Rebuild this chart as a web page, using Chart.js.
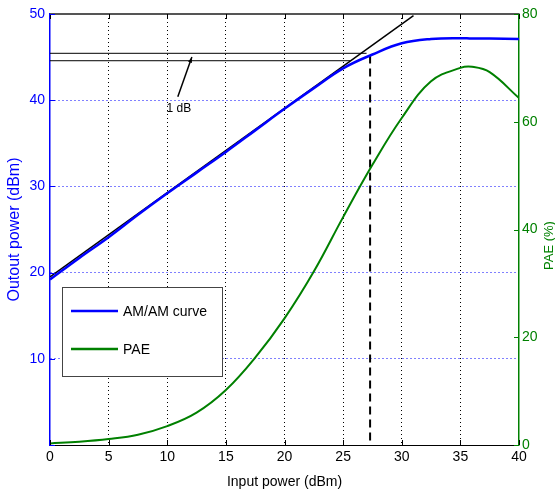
<!DOCTYPE html>
<html><head><meta charset="utf-8">
<script src="https://cdn.jsdelivr.net/npm/chart.js@4"></script>
<style>html,body{margin:0;padding:0;background:#fff}#wrap{width:555px;height:492px}</style>
</head><body><div id="wrap"><canvas id="c" width="555" height="492"></canvas></div>
<script>
const inputPower = [0,2.5,5,7.5,10,12.5,15,17.5,20,22.5,25,27.5,30,32.5,35,36,37.5,40];
const amam       = [19.2,21.7,24.1,26.7,29.2,31.6,34.0,36.5,39.0,41.4,43.7,45.3,46.6,47.1,47.2,47.15,47.15,47.1];
const pae        = [0.3,0.6,1.1,1.9,3.5,6.0,10.2,16.2,23.5,32.2,42.3,52.0,60.7,67.5,70.0,70.2,69.2,64.4];
const linearX    = [0,31];
const linearY    = [19.5,49.8];
const upperLineX = [0,27.0], upperLineY = 45.44;
const lowerLineX = [0,25.6], lowerLineY = 44.58;
const p1dbX = 27.3, p1dbY = 45.2;
const arrowFrom = [10.9,40.4], arrowTo = [12.1,45.0];
const annotText = "1 dB";
const xTicks = [0,5,10,15,20,25,30,35,40];
const leftTicks = [0,10,20,30,40,50];
const rightTicks = [0,20,40,60,80];
const seriesNames = ["AM/AM curve","PAE"];
const rightTitle = "PAE (%)";
const FONT = "'Liberation Sans', Arial, sans-serif";

const zip = (xs, ys) => xs.map((x,i)=>({x, y: ys[i]}));

const framePlugin = {
  id:'frame',
  afterDatasetsDraw(chart){
    const {ctx, chartArea:a, scales} = chart;
    const xs = scales.x, yl = scales.y;
    ctx.save();
    // top border
    ctx.strokeStyle = '#555'; ctx.lineWidth = 2;
    ctx.beginPath(); ctx.moveTo(a.left, a.top); ctx.lineTo(a.right, a.top); ctx.stroke();
    // bottom axis
    ctx.strokeStyle = '#000'; ctx.lineWidth = 1;
    ctx.beginPath(); ctx.moveTo(a.left, a.bottom+0.5); ctx.lineTo(a.right, a.bottom+0.5); ctx.stroke();
    // x ticks inward
    xTicks.forEach(t=>{ const px=Math.round(xs.getPixelForValue(t))+0.5;
      ctx.beginPath(); ctx.moveTo(px,a.bottom); ctx.lineTo(px,a.bottom-5); ctx.stroke();
      ctx.beginPath(); ctx.moveTo(px,a.top); ctx.lineTo(px,a.top+5); ctx.stroke(); });
    // left ticks
    ctx.strokeStyle = '#0000ff';
    leftTicks.forEach(t=>{ const py=Math.round(yl.getPixelForValue(t))+0.5;
      ctx.beginPath(); ctx.moveTo(a.left,py); ctx.lineTo(a.left+5,py); ctx.stroke(); });
    ctx.strokeStyle = '#008000';
    rightTicks.forEach(t=>{ const py=Math.round(scales.y1.getPixelForValue(t))+0.5;
      ctx.beginPath(); ctx.moveTo(a.right,py); ctx.lineTo(a.right-5,py); ctx.stroke(); });
    // right axis title (reads bottom-to-top)
    ctx.save();
    ctx.translate(chart.width-6, (a.top+a.bottom)/2+16);
    ctx.rotate(-Math.PI/2);
    ctx.fillStyle='#008000'; ctx.font='13px '+FONT; ctx.textAlign='center'; ctx.textBaseline='middle';
    ctx.fillText(rightTitle,0,0);
    ctx.restore();
    // arrow
    const x0=xs.getPixelForValue(arrowFrom[0]), y0=yl.getPixelForValue(arrowFrom[1]);
    const x1=xs.getPixelForValue(arrowTo[0]), y1=yl.getPixelForValue(arrowTo[1]);
    ctx.strokeStyle='#000'; ctx.fillStyle='#000'; ctx.lineWidth=1.5;
    ctx.beginPath(); ctx.moveTo(x0,y0); ctx.lineTo(x1,y1); ctx.stroke();
    const ang=Math.atan2(y1-y0,x1-x0), L=6;
    ctx.beginPath(); ctx.moveTo(x1,y1);
    ctx.lineTo(x1-L*Math.cos(ang-0.35), y1-L*Math.sin(ang-0.35));
    ctx.lineTo(x1-L*Math.cos(ang+0.35), y1-L*Math.sin(ang+0.35));
    ctx.closePath(); ctx.fill();
    ctx.font = '12px '+FONT; ctx.textAlign='center'; ctx.textBaseline='top';
    ctx.fillText(annotText, x0+1, y0+6);
    // legend box
    const lx=a.left+12, ly=a.top+273, lw=160, lh=89;
    ctx.fillStyle='#fff'; ctx.fillRect(lx,ly,lw,lh);
    ctx.strokeStyle='#444'; ctx.lineWidth=1; ctx.strokeRect(lx+0.5,ly+0.5,lw,lh);
    const cols=['#0000ff','#008000'];
    seriesNames.forEach((n,i)=>{
      const yy=ly+24+i*38;
      ctx.strokeStyle=cols[i]; ctx.lineWidth=2.5;
      ctx.beginPath(); ctx.moveTo(lx+9,yy); ctx.lineTo(lx+56,yy); ctx.stroke();
      ctx.fillStyle='#000'; ctx.textAlign='left'; ctx.textBaseline='middle';
      ctx.font='14px '+FONT;
      ctx.fillText(n, lx+61, yy+1);
    });
    ctx.restore();
  }
};

new Chart(document.getElementById('c'), {
  type:'line',
  data:{datasets:[
    {label:seriesNames[0], data:zip(inputPower,amam), borderColor:'#0000ff', borderWidth:2.5, pointRadius:0, tension:0.4, yAxisID:'y'},
    {label:seriesNames[1], data:zip(inputPower,pae), borderColor:'#008000', borderWidth:2, pointRadius:0, tension:0.4, yAxisID:'y1'},
    {label:'linear', data:zip(linearX,linearY), borderColor:'#000', borderWidth:1.5, pointRadius:0, yAxisID:'y'},
    {label:'upper', data:zip(upperLineX,[upperLineY,upperLineY]), borderColor:'#000', borderWidth:1, pointRadius:0, yAxisID:'y'},
    {label:'lower', data:zip(lowerLineX,[lowerLineY,lowerLineY]), borderColor:'#000', borderWidth:1, pointRadius:0, yAxisID:'y'},
    {label:'p1dB', data:zip([p1dbX,p1dbX],[p1dbY,0]), borderColor:'#000', borderWidth:2, borderDash:[8,5], pointRadius:0, yAxisID:'y'}
  ]},
  options:{
    responsive:false, animation:false, devicePixelRatio:1,
    layout:{padding:{top:14,right:0,left:0,bottom:0}},
    plugins:{legend:{display:false}, tooltip:{enabled:false}},
    scales:{
      x:{type:'linear', min:0, max:40, afterBuildTicks(s){s.ticks=xTicks.map(v=>({value:v}));},
        afterFit(s){s.height=47;},
        grid:{color:(c)=>(c.tick && (c.tick.value===0||c.tick.value===40))?'rgba(0,0,0,0)':'#000', lineWidth:1, drawTicks:false},
        border:{display:false, dash:[1,3]},
        ticks:{color:'#000', font:{family:FONT,size:14}, padding:4, maxRotation:0},
        title:{display:true, text:'Input power (dBm)', color:'#000', font:{family:FONT,size:14}, padding:{top:0,bottom:1}}},
      y:{type:'linear', position:'left', min:0, max:50, afterBuildTicks(s){s.ticks=leftTicks.map(v=>({value:v}));},
        afterFit(s){s.width=50;},
        grid:{color:(c)=>(c.tick && (c.tick.value===0||c.tick.value===50))?'rgba(0,0,0,0)':'#0000ff', lineWidth:1, drawTicks:false},
        border:{display:true, color:'#0000ff', width:1.5, dash:[1,3]},
        ticks:{color:'#0000ff', font:{family:FONT,size:14}, padding:5, callback:(v)=>v===0?'':v},
        title:{display:true, text:'Outout power (dBm)', color:'#0000ff', font:{family:FONT,size:16}, padding:{top:5,bottom:0}}},
      y1:{type:'linear', position:'right', min:0, max:80, afterBuildTicks(s){s.ticks=rightTicks.map(v=>({value:v}));},
        afterFit(s){s.width=36;},
        grid:{display:false, drawTicks:false},
        border:{display:true, color:'#008000', width:1.5},
        ticks:{color:'#008000', font:{family:FONT,size:14}, padding:3},
        title:{display:false}}
    }
  },
  plugins:[framePlugin]
});
</script></body></html>
